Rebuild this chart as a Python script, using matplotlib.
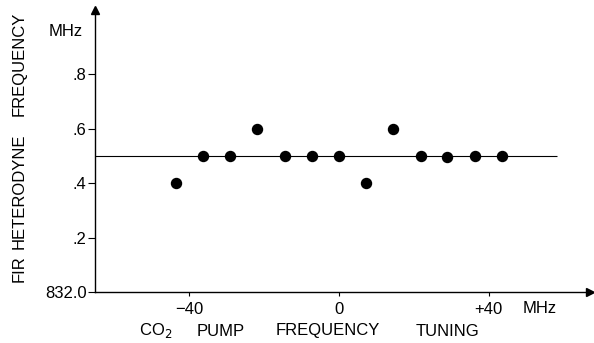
import numpy as np
import matplotlib
matplotlib.use('Agg')
import matplotlib.pyplot as plt

plt.rcParams['font.family'] = ['Liberation Sans', 'DejaVu Sans']

# Pump tuning (MHz) and measured FIR heterodyne frequency offset (MHz above 832.0)
tuning = [-43.5, -36.3, -29.0, -21.8, -14.5, -7.3, 0.0, 7.3, 14.5, 21.8, 29.0, 36.3, 43.5]
fir_freq = [0.40, 0.50, 0.50, 0.60, 0.50, 0.50, 0.50, 0.40, 0.60, 0.50, 0.495, 0.50, 0.50]

# Reference level line
ref_level = 0.5
ref_end = 58.3

xticks = [-40, 0, 40]
xtick_labels = ['\u221240', '0', '+40']
yticks = [0.0, 0.2, 0.4, 0.6, 0.8]
ytick_labels = ['832.0', '.2', '.4', '.6', '.8']

xlim = (-65.2, 67.1)
ylim = (0.0, 1.035)

fig = plt.figure(figsize=(5.94, 3.43), dpi=100)
ax = fig.add_axes([95 / 594, 1 - 292 / 343, (590 - 95) / 594, (292 - 10) / 343])

ax.hlines(ref_level, xlim[0], ref_end, color='black', linewidth=0.8)
ax.plot(tuning, fir_freq, 'o', color='black', markersize=7.2, clip_on=False)

ax.set_xlim(*xlim)
ax.set_ylim(*ylim)

for side in ['top', 'right']:
    ax.spines[side].set_visible(False)
for side in ['left', 'bottom']:
    ax.spines[side].set_linewidth(1.0)

# arrow heads on the axes
ax.plot(1, 0, '>', color='black', markersize=6, transform=ax.transAxes, clip_on=False)
ax.plot(0, 1, '^', color='black', markersize=6, transform=ax.transAxes, clip_on=False)

ax.set_xticks(xticks)
ax.set_xticklabels(xtick_labels, fontsize=12)
ax.set_yticks(yticks)
ax.set_yticklabels(ytick_labels, fontsize=12)
ax.tick_params(axis='x', direction='out', length=3, width=0.8, pad=4)
ax.tick_params(axis='y', direction='out', length=5, width=0.8, pad=1)

# unit labels
ax.text(-0.025, 0.925, 'MHz', transform=ax.transAxes, ha='right', va='center', fontsize=12)
ax.text(49, -0.062, 'MHz', ha='left', va='center', fontsize=12, clip_on=False)

# x axis title, words spread as in the original
for word, xc in [('CO$_2$', 156), ('PUMP', 221), ('FREQUENCY', 328), ('TUNING', 447)]:
    fig.text(xc / 594, 1 - 331 / 343, word, ha='center', va='center', fontsize=12)

# y axis title
for word, yc in [('FIR', 269), ('HETERODYNE', 191), ('FREQUENCY', 64)]:
    fig.text(19 / 594, 1 - yc / 343, word, ha='center', va='center', rotation=90, fontsize=12)

fig.savefig('out.png', dpi=100)
